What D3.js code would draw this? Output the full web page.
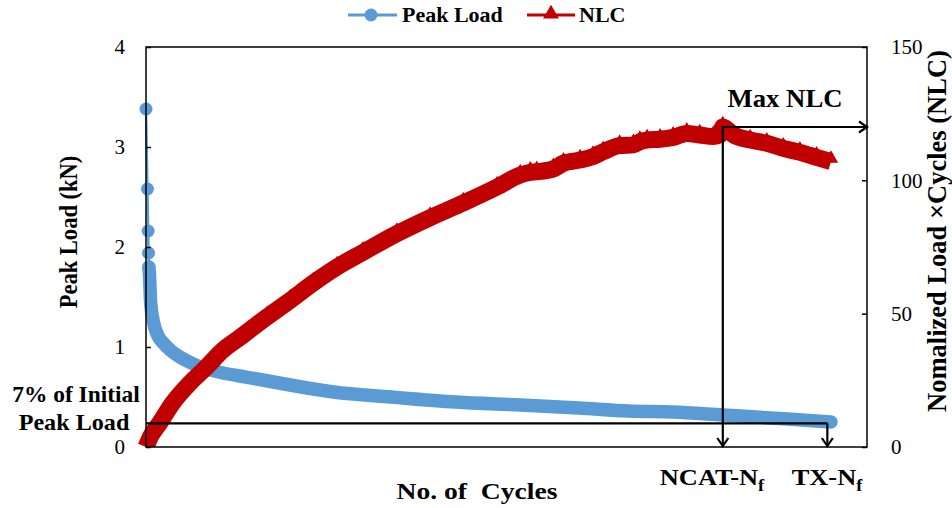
<!DOCTYPE html>
<html>
<head>
<meta charset="utf-8">
<script src="https://cdn.jsdelivr.net/npm/d3@7/dist/d3.min.js"></script>
<style>
  html, body { margin: 0; padding: 0; background: #ffffff; }
  svg { display: block; }
  text { font-family: "Liberation Serif", "Times New Roman", serif; fill: #000; }
</style>
</head>
<body>
<svg id="chart" width="952" height="508"></svg>
<script>
// Peak load (kN) against load cycles
const peakCycles = [0, 2, 3, 3.5, 4, 5, 5.5, 6, 7, 9, 12, 16, 24, 35, 47, 60, 75, 90, 107, 130, 154, 200, 260, 340, 430, 520, 600, 670, 730, 800, 890, 950];
const peakLoad   = [3.38, 2.58, 2.16, 1.94, 1.80, 1.70, 1.60, 1.50, 1.40, 1.30, 1.20, 1.12, 1.04, 0.96, 0.90, 0.85, 0.80, 0.77, 0.74, 0.71, 0.68, 0.62, 0.55, 0.50, 0.45, 0.42, 0.39, 0.36, 0.35, 0.32, 0.28, 0.25];

// Normalized load x cycles (NLC)
const nlcCycles = [0, 6, 19, 37, 61, 84, 107, 130, 168, 200, 232, 265, 301, 348, 394, 440, 487, 519, 533, 542, 565, 579, 602, 620, 634, 657, 676, 685, 695, 713, 731, 750, 768, 787, 796, 800, 815, 838, 861, 884, 907, 930, 950];
const nlcValues = [0, 3.8, 9, 16.5, 24, 30, 36.4, 41, 48.8, 55, 61.5, 67.5, 73, 80, 86, 91.5, 97.5, 102, 103, 103.2, 104.3, 106.4, 107.6, 108.9, 110.7, 113, 113.3, 114.5, 115.1, 115.4, 116.1, 117.6, 117, 116.4, 117, 120, 117, 115.1, 113.9, 112, 110.5, 108.6, 107];

// Axis ticks
const leftTicks  = [0, 1, 2, 3, 4];
const rightTicks = [0, 50, 100, 150];

// Failure criteria
const failureFraction = 0.07;   // 7% of initial peak load
const txNf = 945;               // cycle where peak load falls to the 7% level

const svg = d3.select("#chart");
const W = 952, H = 508;
const plot = { left: 146, right: 867, top: 47, bottom: 447 };

const x = d3.scaleLinear().domain([0, 1000]).range([plot.left, plot.right]);
const yL = d3.scaleLinear().domain([0, 4]).range([plot.bottom, plot.top]);
const yR = d3.scaleLinear().domain([0, 150]).range([plot.bottom, plot.top]);

const BLUE = "#5b9bd5", RED = "#c00000";

// arrow heads
const defs = svg.append("defs");
defs.append("marker")
  .attr("id", "arrow")
  .attr("markerUnits", "userSpaceOnUse")
  .attr("markerWidth", 14).attr("markerHeight", 14)
  .attr("refX", 10).attr("refY", 7)
  .attr("orient", "auto")
  .append("path")
  .attr("d", "M2,1.5 L10,7 L2,12.5")
  .attr("fill", "none").attr("stroke", "#000").attr("stroke-width", 2.2);

defs.append("clipPath").attr("id", "clip")
  .append("rect").attr("x", 0).attr("y", 0).attr("width", W).attr("height", plot.bottom);

// series
const peak = peakCycles.map((c, i) => ({ c, v: peakLoad[i] }));
const nlc = nlcCycles.map((c, i) => ({ c, v: nlcValues[i] }));

const series = svg.append("g").attr("clip-path", "url(#clip)");

const lineL = d3.line().x(d => x(d.c)).y(d => yL(d.v));
const bandL = d3.line().curve(d3.curveMonotoneX).x(d => x(d.c)).y(d => yL(d.v));
const lineR = d3.line().curve(d3.curveMonotoneX).x(d => x(d.c)).y(d => yR(d.v));

// peak load: thin connecting line, discrete early markers, dense band afterwards
series.append("path").datum(peak).attr("d", lineL)
  .attr("fill", "none").attr("stroke", BLUE).attr("stroke-width", 2.5);
series.append("path").datum(peak.slice(4)).attr("d", bandL)
  .attr("fill", "none").attr("stroke", BLUE).attr("stroke-width", 13.5)
  .attr("stroke-linejoin", "round").attr("stroke-linecap", "round");
series.selectAll("circle.peak").data(peak.slice(0, 6)).join("circle")
  .attr("class", "peak")
  .attr("cx", d => x(d.c)).attr("cy", d => yL(d.v)).attr("r", 6.5)
  .attr("fill", BLUE);

// NLC: dense triangle markers form a band
series.append("path").datum(nlc).attr("d", lineR)
  .attr("fill", "none").attr("stroke", RED).attr("stroke-width", 17)
  .attr("stroke-linejoin", "round");
const tri = d3.symbol().type(d3.symbolTriangle).size(90);
series.selectAll("path.nlc").data(nlc.slice(8)).join("path")
  .attr("class", "nlc")
  .attr("transform", d => `translate(${x(d.c)},${yR(d.v) - 3})`)
  .attr("d", tri).attr("fill", RED);

// plot frame
svg.append("rect")
  .attr("x", plot.left).attr("y", plot.top)
  .attr("width", plot.right - plot.left).attr("height", plot.bottom - plot.top)
  .attr("fill", "none").attr("stroke", "#000").attr("stroke-width", 1.5);

// axes (ticks point inward)
const axL = svg.append("g").attr("transform", `translate(${plot.left},0)`)
  .call(d3.axisLeft(yL).tickValues(leftTicks).tickFormat(d3.format("d"))
    .tickSizeInner(-5).tickSizeOuter(0).tickPadding(21));
const axR = svg.append("g").attr("transform", `translate(${plot.right},0)`)
  .call(d3.axisRight(yR).tickValues(rightTicks).tickFormat(d3.format("d"))
    .tickSizeInner(-5).tickSizeOuter(0).tickPadding(24));
[axL, axR].forEach(ax => {
  ax.select(".domain").remove();
  ax.selectAll(".tick line").attr("stroke", "#000").attr("stroke-width", 1.5);
  ax.selectAll(".tick text")
    .style("font-family", '"Liberation Serif", serif')
    .style("font-size", "21px").attr("fill", "#000");
});

// annotations
const ann = svg.append("g").attr("fill", "none").attr("stroke", "#000").attr("stroke-width", 2.2);
const thresholdY = yL(peakLoad[0] * failureFraction);
ann.append("line")
  .attr("x1", plot.left).attr("x2", x(txNf))
  .attr("y1", thresholdY).attr("y2", thresholdY);
ann.append("line")
  .attr("x1", x(txNf)).attr("x2", x(txNf))
  .attr("y1", thresholdY).attr("y2", plot.bottom - 1)
  .attr("marker-end", "url(#arrow)");

const maxIdx = d3.maxIndex(nlcValues);
const ncatNf = nlcCycles[maxIdx];
const maxY = yR(nlcValues[maxIdx]);
ann.append("line")
  .attr("x1", x(ncatNf)).attr("x2", x(ncatNf))
  .attr("y1", maxY - 1).attr("y2", plot.bottom - 1)
  .attr("marker-end", "url(#arrow)");
ann.append("line")
  .attr("x1", x(ncatNf)).attr("x2", plot.right)
  .attr("y1", maxY).attr("y2", maxY)
  .attr("marker-end", "url(#arrow)");

// text helper
function label(str, px, py, opt) {
  const o = Object.assign({ size: 24, weight: "bold", anchor: "middle", rotate: 0, sx: 1 }, opt || {});
  const g = svg.append("g").attr("transform", `translate(${px},${py}) rotate(${o.rotate}) scale(${o.sx},1)`);
  const t = g.append("text")
    .attr("text-anchor", o.anchor)
    .style("font-size", o.size + "px")
    .style("font-weight", o.weight)
    .style("white-space", "pre")
    .text(str);
  return t;
}

label("Max NLC", 785, 107, { size: 25, sx: 1.07 });
label("7% of Initial", 76, 402, { size: 23, sx: 1.02 });
label("Peak Load", 74, 430, { size: 23, sx: 1.05 });
label("No. of  Cycles", 477, 499, { size: 24, sx: 1.15 });

// N_f labels with subscript
function nfLabel(prefix, px, py) {
  const g = svg.append("g").attr("transform", `translate(${px},${py}) scale(1.15,1)`);
  const t = g.append("text").attr("text-anchor", "middle")
    .style("font-size", "23px").style("font-weight", "bold");
  t.append("tspan").text(prefix);
  t.append("tspan").attr("dy", 6).style("font-size", "16px").text("f");
}
nfLabel("NCAT-N", 712, 485);
nfLabel("TX-N", 827, 485);

// axis titles
label("Peak Load (kN)", 77, 232, { size: 24.5, rotate: -90, sx: 0.92 });
label("Nomalized Load \u00d7Cycles (NLC)", 946, 231, { size: 26.5, rotate: -90 });

// legend
const leg = svg.append("g");
leg.append("line").attr("x1", 348).attr("x2", 397).attr("y1", 15).attr("y2", 15)
  .attr("stroke", BLUE).attr("stroke-width", 3);
leg.append("circle").attr("cx", 371).attr("cy", 15).attr("r", 6.5).attr("fill", BLUE);
leg.append("text").attr("x", 402).attr("y", 22)
  .style("font-size", "22px").style("font-weight", "bold").text("Peak Load");
leg.append("line").attr("x1", 527).attr("x2", 575).attr("y1", 15).attr("y2", 15)
  .attr("stroke", RED).attr("stroke-width", 3);
leg.append("path").attr("transform", "translate(551,14)")
  .attr("d", d3.symbol().type(d3.symbolTriangle).size(110)).attr("fill", RED);
leg.append("text").attr("x", 579).attr("y", 22)
  .style("font-size", "22px").style("font-weight", "bold").text("NLC");
</script>
</body>
</html>
